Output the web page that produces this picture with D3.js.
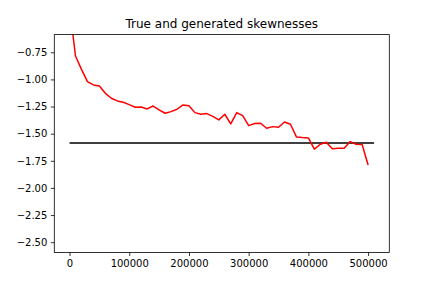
<!DOCTYPE html>
<html>
<head>
<meta charset="utf-8">
<script src="https://cdn.jsdelivr.net/npm/d3@7"></script>
<style>
  body { margin: 0; background: #fff; }
  svg { display: block; font-family: "DejaVu Sans", sans-serif; }
</style>
</head>
<body>
<div id="chart"></div>
<script>
'use strict';

// generated skewness, one value every 10000 steps
const steps = d3.range(0, 510000, 10000);
const generated = [
  -0.33, -0.784, -0.907, -1.021, -1.051, -1.06, -1.128, -1.174, -1.198, -1.21,
  -1.232, -1.256, -1.254, -1.272, -1.245, -1.281, -1.312, -1.297, -1.275, -1.235,
  -1.242, -1.306, -1.321, -1.315, -1.34, -1.373, -1.321, -1.41, -1.306, -1.334,
  -1.426, -1.407, -1.404, -1.45, -1.435, -1.441, -1.392, -1.413, -1.53, -1.536,
  -1.539, -1.643, -1.597, -1.579, -1.64, -1.634, -1.634, -1.573, -1.597, -1.6,
  -1.788
];
const trueSkew = -1.585;
const trueRange = [0, 510000];
const xTicks = [0, 100000, 200000, 300000, 400000, 500000];
const yTicks = [-0.75, -1.0, -1.25, -1.5, -1.75, -2.0, -2.25, -2.5];

const width = 432, height = 288;
const margin = { top: 34.6, right: 42.7, bottom: 35.5, left: 54.3 };
const plotW = width - margin.left - margin.right;
const plotH = height - margin.top - margin.bottom;

const svg = d3.select('#chart').append('svg')
  .attr('width', width)
  .attr('height', height);

const x = d3.scaleLinear().domain([-25500, 535500]).range([0, plotW]);
const y = d3.scaleLinear().domain([-2.595, -0.587]).range([plotH, 0]);

const plot = svg.append('g')
  .attr('transform', `translate(${margin.left},${margin.top})`);

plot.append('clipPath').attr('id', 'clip')
  .append('rect').attr('width', plotW).attr('height', plotH);

const fmtMinus = (s) => s.replace('-', '\u2212');

// axes
const xAxis = plot.append('g')
  .attr('transform', `translate(0,${plotH})`)
  .call(d3.axisBottom(x).tickValues(xTicks).tickSize(3.5).tickPadding(3.5)
    .tickFormat((d) => fmtMinus(d3.format('d')(d))));
const yAxis = plot.append('g')
  .call(d3.axisLeft(y).tickValues(yTicks).tickSize(3.5).tickPadding(3.5)
    .tickFormat((d) => fmtMinus(d3.format('.2f')(d))));

[xAxis, yAxis].forEach((a) => {
  a.select('.domain').remove();
  a.selectAll('line').attr('stroke', '#000').attr('stroke-width', 0.8);
  a.selectAll('text')
    .attr('fill', '#000')
    .style('font-family', '"DejaVu Sans", sans-serif')
    .style('font-size', '10px');
});

const lines = plot.append('g').attr('clip-path', 'url(#clip)');

lines.append('path')
  .datum(trueRange)
  .attr('fill', 'none')
  .attr('stroke', '#000')
  .attr('stroke-width', 1.5)
  .attr('d', d3.line().x((d) => x(d)).y(() => y(trueSkew)));

lines.append('path')
  .datum(generated)
  .attr('fill', 'none')
  .attr('stroke', '#ff0000')
  .attr('stroke-width', 1.5)
  .attr('stroke-linejoin', 'round')
  .attr('d', d3.line().x((d, i) => x(steps[i])).y((d) => y(d)));

// frame
plot.append('rect')
  .attr('width', plotW)
  .attr('height', plotH)
  .attr('fill', 'none')
  .attr('stroke', '#000')
  .attr('stroke-width', 0.8);

svg.append('text')
  .attr('x', margin.left + plotW / 2)
  .attr('y', margin.top - 6.5)
  .attr('text-anchor', 'middle')
  .style('font-size', '12px')
  .text('True and generated skewnesses');
</script>
</body>
</html>
